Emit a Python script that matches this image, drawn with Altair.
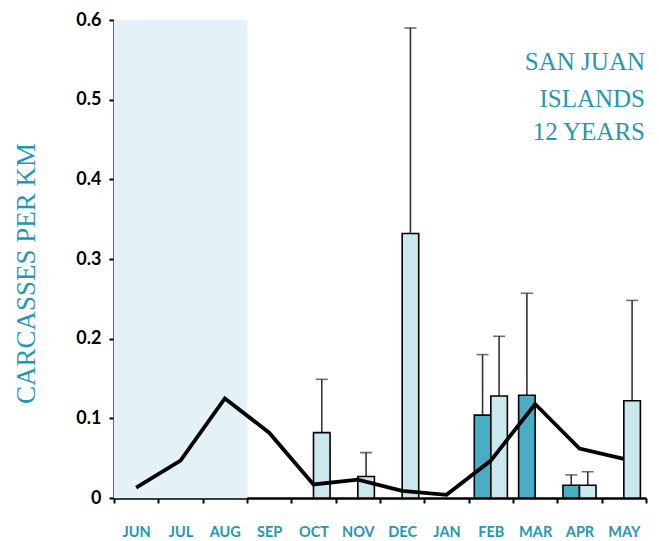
import altair as alt
import pandas as pd

months = ["JUN", "JUL", "AUG", "SEP", "OCT", "NOV", "DEC", "JAN", "FEB", "MAR", "APR", "MAY"]
line_values = [0.013, 0.047, 0.125, 0.082, 0.017, 0.023, 0.009, 0.004, 0.047, 0.118, 0.062, 0.049]

dark_months = ["FEB", "MAR", "APR"]
dark_values = [0.104, 0.129, 0.016]
dark_upper = [0.180, 0.257, 0.029]

light_months = ["OCT", "NOV", "DEC", "FEB", "APR", "MAY"]
light_values = [0.082, 0.027, 0.332, 0.128, 0.016, 0.122]
light_upper = [0.149, 0.057, 0.590, 0.203, 0.033, 0.248]

shade_months = ["JUN", "JUL", "AUG"]
y_ticks = [0, 0.1, 0.2, 0.3, 0.4, 0.5, 0.6]
y_max = 0.6
title_lines = ["SAN JUAN", "ISLANDS", "12 YEARS"]
y_title = "CARCASSES PER KM"

TEAL = "#2596b4"
DARK = "#4aadc6"
LIGHT = "#cce8ef"
SHADE = "#e4f2f7"

bars = pd.DataFrame(
    [{"month": m, "series": "a", "value": v, "upper": u} for m, v, u in zip(dark_months, dark_values, dark_upper)]
    + [{"month": m, "series": "b", "value": v, "upper": u} for m, v, u in zip(light_months, light_values, light_upper)]
)
line_df = pd.DataFrame({"month": months, "value": line_values})
shade_df = pd.DataFrame({"month": shade_months, "value": [y_max] * len(shade_months), "base": [0] * len(shade_months)})

x_scale = alt.Scale(domain=months, paddingInner=0, paddingOuter=0)
x_axis = alt.Axis(
    title=None, labelAngle=0, tickBand="extent", labelFont="Lato", labelFontWeight="bold",
    labelFontSize=14.5, labelColor=TEAL, tickSize=5, tickWidth=2, tickColor="black",
    domainColor="black", domainWidth=2.5, labelPadding=22,
)
y_scale = alt.Scale(domain=[0, y_max], nice=False)
y_axis = alt.Axis(
    values=y_ticks, labelExpr="datum.value == 0 ? '0' : format(datum.value, '.1f')",
    title=y_title, titleFont="Liberation Serif", titleFontWeight="normal", titleFontSize=27,
    titleColor=TEAL, titleAngle=-90, titleX=-88, titleY=253, titleAlign="center",
    titleBaseline="middle", labelFont="Lato", labelFontWeight="bold", labelFontSize=18,
    labelColor="black", labelPadding=8, tickSize=5, tickWidth=2, tickColor="black",
    domainColor="black", domainWidth=2.5, grid=False,
)


def X():
    return alt.X("month:N", sort=months, scale=x_scale, axis=x_axis)


def Y(field="value"):
    return alt.Y(f"{field}:Q", scale=y_scale, axis=y_axis, title=y_title)


x_off = alt.XOffset("series:N", scale=alt.Scale(domain=["a", "b"], paddingInner=0, paddingOuter=0.34))

shade = alt.Chart(shade_df).mark_bar(color=SHADE, stroke=SHADE, strokeWidth=0.5).encode(
    x=X(), y=Y(), y2="base:Q"
)

bar_layer = alt.Chart(bars).mark_bar(stroke="black", strokeWidth=1.6).encode(
    x=X(), xOffset=x_off, y=Y(),
    color=alt.Color("series:N", scale=alt.Scale(domain=["a", "b"], range=[DARK, LIGHT]), legend=None),
)

err = alt.Chart(bars).mark_rule(color="#333333", strokeWidth=1.6).encode(
    x=X(), xOffset=x_off, y=Y(), y2="upper:Q"
)
caps = alt.Chart(bars).mark_tick(color="#333333", thickness=1.6, size=12).encode(
    x=X(), xOffset=x_off, y=Y("upper")
)

line = alt.Chart(line_df).mark_line(color="black", strokeWidth=3.8, strokeJoin="miter").encode(
    x=X(), y=Y()
)

texts = [
    alt.Chart(pd.DataFrame({"t": [t]})).mark_text(
        font="Liberation Serif", fontSize=25, color=TEAL, align="right", baseline="alphabetic"
    ).encode(text="t:N", x=alt.value(531), y=alt.value(yy))
    for t, yy in zip(title_lines, [50, 87, 120])
]

chart = alt.layer(shade, err, caps, bar_layer, line, *texts).properties(
    width=532, height=478,
    autosize=alt.AutoSizeParams(type="none"),
    padding={"left": 106, "top": 12, "right": 5, "bottom": 41},
).configure_view(stroke=None)

chart.save("out.html", embed_options={"renderer": "svg", "actions": False})
